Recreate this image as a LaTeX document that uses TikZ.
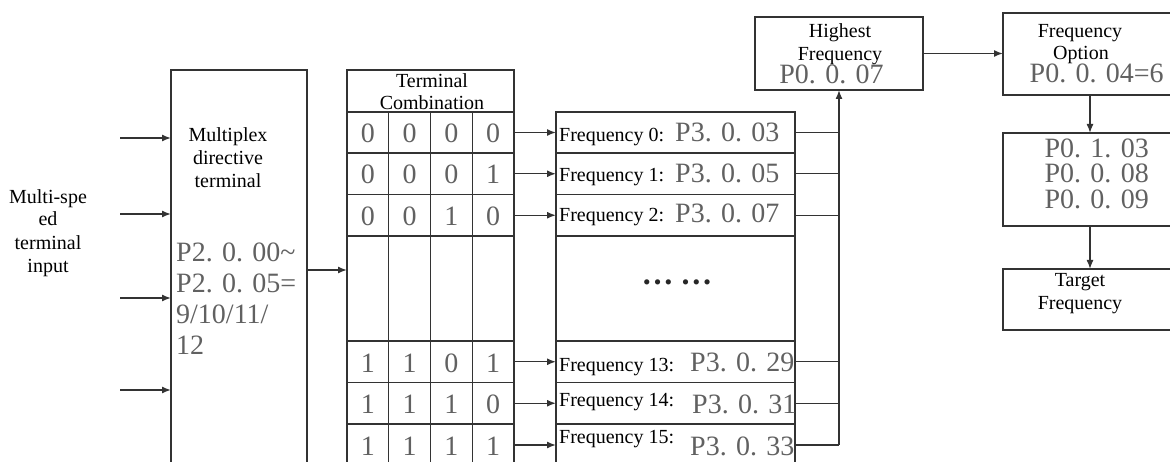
\documentclass[tikz,border=0pt]{standalone}
\usepackage{fontspec}
\setmainfont{Liberation Serif}
\usetikzlibrary{arrows.meta}
\begin{document}
\begin{tikzpicture}[x=1pt,y=-1pt,
  box/.style={draw=black!80, line width=1.4pt, inner sep=0pt, outer sep=0pt, anchor=north west},
  lbl/.style={font=\fontsize{20}{23}\selectfont, inner sep=0pt, anchor=base},
  pv/.style={font=\fontsize{28}{28}\selectfont, text=black!62, inner sep=0pt, anchor=base},
  conn/.style={draw=black!80, line width=1.4pt},
  arr/.style={conn, -{Latex[length=9pt,width=7pt]}}]
\useasboundingbox (0,0) rectangle (1170,462);

% left input text
\node[lbl] (ms1) at (48,203.3) {Multi-spe};
\node[lbl] (ms2) at (48,226) {ed};
\node[lbl] (ms3) at (48,249.3) {terminal};
\node[lbl] (ms4) at (48,272.3) {input};

% multiplex box
\node[box, minimum width=136pt, minimum height=440pt] (mux) at (171,70) {};
\node[lbl] (mx1) at (228,141.5) {Multiplex};
\node[lbl] (mx2) at (228,164.5) {directive};
\node[lbl] (mx3) at (228,187.5) {terminal};
\node[pv, anchor=base west] (mp1) at (176,261.5) {P2. 0. 00\textasciitilde};
\node[pv, anchor=base west] (mp2) at (176,292.5) {P2. 0. 05=};
\node[pv, anchor=base west] (mp3) at (176,323.5) {9/10/11/};
\node[pv, anchor=base west] (mp4) at (176,354.5) {12};

\foreach \i/\yy in {1/138,2/214,3/298,4/390}{
  \coordinate (in\i) at (120,\yy);
  \draw[arr] (in\i) -- (in\i -| mux.west);
}

% table header
\node[box, minimum width=167pt, minimum height=42pt] (th) at (347,70) {};
\node[lbl] (th1) at (432,87.3) {Terminal};
\node[lbl] (th2) at (432,110) {Combination};

% table cells and frequency boxes
\foreach \r/\top/\h in {0/112/41,1/153/41.5,2/194.5/41.5,3/236/105,4/341/41.5,5/382.5/41.5,6/424/42}{
  \foreach \c in {1,...,4}{
    \node[box, minimum width=41.75pt, minimum height=\h pt] (t\r\c) at ({347+(\c-1)*41.75},\top) {};
  }
  \node[box, minimum width=239pt, minimum height=\h pt] (f\r) at (556,\top) {};
}

% digits
\foreach \r/\da/\db/\dc/\dd in {0/0/0/0/0,1/0/0/0/1,2/0/0/1/0,4/1/1/0/1,5/1/1/1/0,6/1/1/1/1}{
  \node[pv] (d\r1) at ([yshift=-31pt]t\r1.north) {\da};
  \node[pv] (d\r2) at ([yshift=-31pt]t\r2.north) {\db};
  \node[pv] (d\r3) at ([yshift=-31pt]t\r3.north) {\dc};
  \node[pv] (d\r4) at ([yshift=-31pt]t\r4.north) {\dd};
  \draw[arr] (t\r4.east) -- (f\r.west);
}

% mux to table
\coordinate (mo) at (0,270);
\draw[arr] (mux.east |- mo) -- (mo -| t31.west);

% frequency labels
\node[lbl, anchor=base west] (fl0) at (559,141.7) {Frequency 0:};
\node[pv, anchor=base west] (fp0) at (675,141.7) {P3. 0. 03};
\node[lbl, anchor=base west] (fl1) at (559,181.5) {Frequency 1:};
\node[pv, anchor=base west] (fp1) at (675,183) {P3. 0. 05};
\node[lbl, anchor=base west] (fl2) at (559,221.5) {Frequency 2:};
\node[pv, anchor=base west] (fp2) at (675,223) {P3. 0. 07};
\node[inner sep=0pt, font=\bfseries\fontsize{32}{32}\selectfont, text=black!85] (dots) at (677,282) {…\hspace{7pt}…};
\node[lbl, anchor=base west] (fl4) at (559,371) {Frequency 13:};
\node[pv, anchor=base west] (fp4) at (690,371.5) {P3. 0. 29};
\node[lbl, anchor=base west] (fl5) at (559,406.7) {Frequency 14:};
\node[pv, anchor=base west] (fp5) at (692,413) {P3. 0. 31};
\node[lbl, anchor=base west] (fl6) at (559,443) {Frequency 15:};
\node[pv, anchor=base west] (fp6) at (690,455) {P3. 0. 33};

% highest frequency
\node[box, minimum width=168pt, minimum height=73pt] (hi) at (755,17) {};
\node[lbl] (hi1) at (840,37.3) {Highest};
\node[lbl] (hi2) at (840,61) {Frequency};
\node[pv] (hi3) at (831.5,83.3) {P0. 0. 07};

\foreach \r in {0,1,2,4,5,6}{
  \draw[conn] (f\r.east) -- (f\r.east -| hi.south);
}
\draw[arr] (f6.east -| hi.south) -- (hi.south);

% right column
\node[box, minimum width=174pt, minimum height=82pt] (opt) at (1003,13) {};
\node[lbl] (op1) at (1080,37.7) {Frequency};
\node[lbl] (op2) at (1081,60) {Option};
\node[pv] (op3) at (1096.7,82.7) {P0. 0. 04=6};

\node[box, minimum width=174pt, minimum height=93pt] (b3) at (1003,133) {};
\node[pv] (b31) at (1096.7,157.7) {P0. 1. 03};
\node[pv] (b32) at (1096.7,182.7) {P0. 0. 08};
\node[pv] (b33) at (1096.7,208.3) {P0. 0. 09};

\node[box, minimum width=174pt, minimum height=61pt] (tgt) at (1003,269) {};
\node[lbl] (tg1) at (1080,286.7) {Target};
\node[lbl] (tg2) at (1080,310) {Frequency};

\draw[arr] (hi.east) -- (hi.east -| opt.west);
\draw[arr] (opt.south) -- (b3.north);
\draw[arr] (b3.south) -- (tgt.north);
\end{tikzpicture}
\end{document}
